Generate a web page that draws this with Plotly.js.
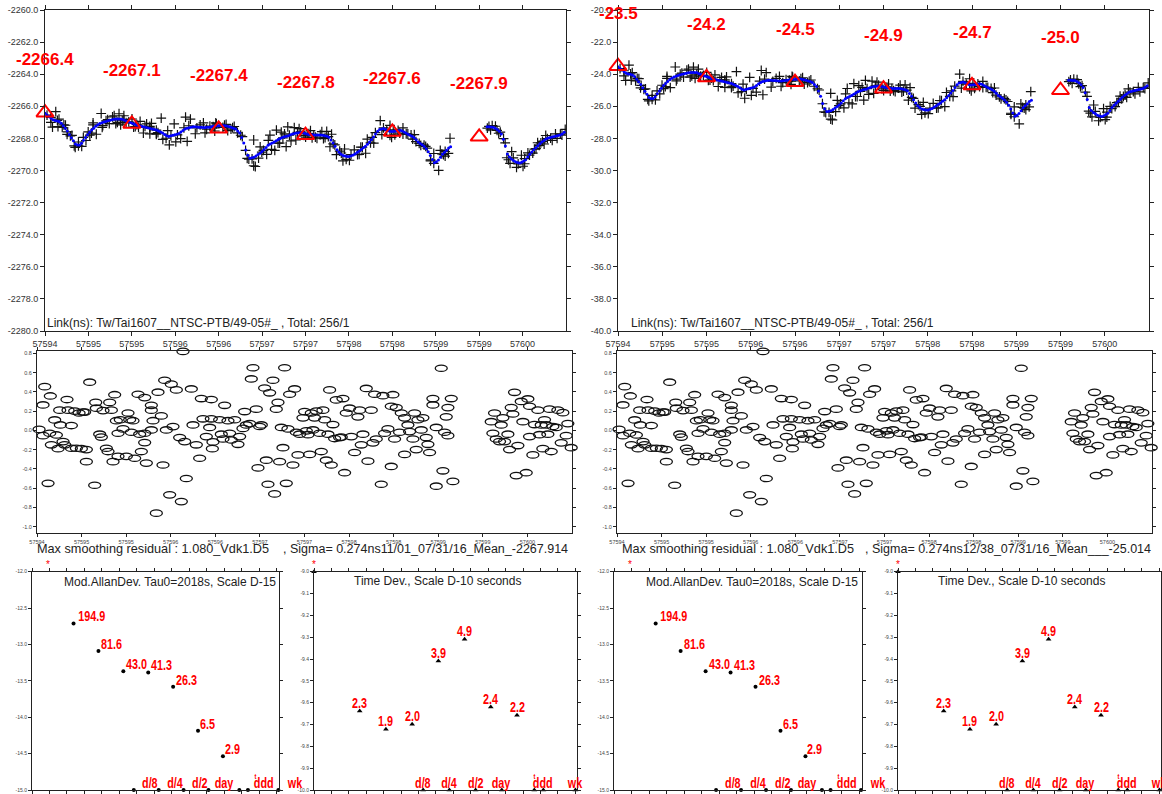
<!DOCTYPE html>
<html><head><meta charset="utf-8">
<script src="https://cdn.plot.ly/plotly-3.0.1.min.js"></script>
<style>html,body{margin:0;padding:0;background:#fff;}#chart{width:1162px;height:794px;}</style>
</head><body><div id="chart"></div>
<script>
// ---------------- DATA ----------------
const MJD0 = 57594;
const TAU0_S = 2018;
const DAY_S = 86400;

// smoothed link values (ns), samples 0..200
const smoothSeg1 = [-2266.44,-2266.54,-2266.64,-2266.74,-2266.84,-2266.88,-2266.91,-2266.95,-2267.05,-2267.21,
-2267.37,-2267.54,-2267.75,-2267.96,-2268.15,-2268.35,-2268.41,-2268.41,-2268.30,-2268.12,
-2267.95,-2267.78,-2267.61,-2267.48,-2267.36,-2267.24,-2267.15,-2267.07,-2267.02,-2266.98,
-2266.94,-2266.90,-2266.87,-2266.84,-2266.81,-2266.79,-2266.79,-2266.79,-2266.80,-2266.86,
-2266.91,-2266.96,-2267.01,-2267.06,-2267.11,-2267.16,-2267.20,-2267.23,-2267.26,-2267.29,
-2267.32,-2267.35,-2267.38,-2267.41,-2267.45,-2267.48,-2267.54,-2267.60,-2267.66,-2267.75,
-2267.84,-2267.88,-2267.84,-2267.80,-2267.77,-2267.74,-2267.70,-2267.60,-2267.50,-2267.41,
-2267.36,-2267.33,-2267.30,-2267.27,-2267.28,-2267.29,-2267.30,-2267.31,-2267.32,-2267.32,
-2267.31,-2267.30,-2267.27,-2267.24,-2267.22,-2267.21,-2267.21,-2267.20,-2267.20,-2267.21,
-2267.25,-2267.28,-2267.32,-2267.36,-2267.42,-2267.54,-2267.66,-2267.95,-2268.28,-2268.72,
-2269.05,-2269.23,-2269.21,-2269.17,-2269.10,-2269.01,-2268.92,-2268.82,-2268.69,-2268.56,
-2268.43,-2268.35,-2268.29,-2268.23,-2268.15,-2268.07,-2268.00,-2267.94,-2267.90,-2267.86,
-2267.83,-2267.78,-2267.73,-2267.69,-2267.67,-2267.65,-2267.63,-2267.64,-2267.68,-2267.72,
-2267.75,-2267.76,-2267.78,-2267.79,-2267.79,-2267.79,-2267.79,-2267.80,-2267.84,-2267.87,
-2267.93,-2268.10,-2268.28,-2268.49,-2268.70,-2268.87,-2268.98,-2269.07,-2269.10,-2269.13,
-2269.13,-2269.08,-2269.03,-2268.95,-2268.87,-2268.78,-2268.69,-2268.59,-2268.49,-2268.36,
-2268.23,-2268.07,-2267.92,-2267.73,-2267.55,-2267.45,-2267.41,-2267.38,-2267.44,-2267.50,
-2267.56,-2267.57,-2267.56,-2267.54,-2267.52,-2267.49,-2267.53,-2267.60,-2267.66,-2267.74,
-2267.80,-2267.87,-2267.96,-2268.09,-2268.22,-2268.31,-2268.40,-2268.50,-2268.64,-2268.83,
-2269.07,-2269.32,-2269.52,-2269.45,-2269.35,-2269.17,-2268.99,-2268.87,-2268.74,-2268.60,
-2268.52];
const SEG2_START = 218;
// smoothed link values (ns), samples 218..256
const smoothSeg2 = [-2267.27,-2267.28,-2267.29,-2267.30,-2267.36,-2267.44,-2267.55,-2267.73,-2268.06,-2268.48,
-2268.97,-2269.16,-2269.29,-2269.37,-2269.46,-2269.50,-2269.54,-2269.49,-2269.41,-2269.33,
-2269.16,-2268.98,-2268.84,-2268.71,-2268.58,-2268.46,-2268.33,-2268.22,-2268.13,-2268.04,
-2267.98,-2267.95,-2267.91,-2267.88,-2267.85,-2267.82,-2267.79,-2267.72,-2267.62];

// smoothing residuals (ns): sample position and value
const residSample = [1.0,2.9,3.7,2.9,6.4,5.3,6.1,6.9,8.5,9.3,10.1,10.9,11.2,12.5,13.3,14.4,14.9,16.5,16.5,18.1,18.9,20.2,21.3,22.1,22.9,23.7,23.7,25.3,27.7,28.2,28.5,30.1,30.9,31.7,33.3,34.1,34.9,35.7,36.5,37.3,38.1,38.9,38.9,40.0,41.3,42.9,43.7,44.5,45.3,46.1,46.9,48.5,49.3,50.1,51.7,51.7,51.7,52.5,54.9,54.9,55.7,54.9,57.3,58.1,59.7,60.5,61.3,62.1,63.7,64.5,65.3,66.9,68.5,69.3,70.1,70.9,71.7,74.1,74.9,76.5,78.1,78.9,79.7,81.3,82.9,83.7,83.7,84.2,84.5,
87.7,88.5,89.3,90.1,91.7,92.5,93.3,94.9,96.5,97.3,98.9,99.7,100.5,102.1,102.9,103.7,102.9,105.3,106.1,106.9,107.7,109.3,110.1,110.9,111.7,113.3,114.1,114.9,115.7,116.5,117.3,118.1,118.9,119.7,120.5,121.3,122.9,123.7,124.5,125.3,126.1,127.7,128.5,129.3,130.1,130.9,131.7,132.5,133.3,134.1,135.7,136.5,137.3,138.1,138.9,139.7,140.5,141.3,142.1,142.9,143.7,145.3,146.1,146.9,147.7,148.5,150.1,150.9,152.5,154.1,154.9,155.7,156.5,158.1,158.9,160.5,161.3,162.1,162.9,165.3,166.1,166.9,168.5,170.1,170.1,170.9,
172.5,171.7,174.9,176.5,174.1,176.5,178.1,178.9,180.5,181.3,182.1,182.9,184.5,185.3,186.9,187.7,188.5,190.1,190.1,191.7,191.7,194.1,194.9,195.7,196.5,197.3,197.3,198.9,199.7,
218.1,218.9,219.7,220.5,222.1,222.9,223.7,224.5,226.1,226.9,227.7,228.5,229.3,230.1,230.9,232.5,233.3,234.9,235.7,236.5,236.5,238.1,238.9,240.5,241.3,242.1,242.9,243.7,244.5,245.3,246.1,246.9,247.7,249.3,250.1,251.7,252.5,254.1,254.9,256.5];
const residValue = [0.01,-0.055,0.454,0.264,0.357,-0.55,-0.03,-0.15,0.108,-0.048,-0.19,0.21,0.056,-0.117,-0.15,0.32,0.21,0.05,-0.186,0.2,-0.186,0.18,-0.19,0.19,0.19,-0.2,-0.325,0.5,-0.57,0.29,0.23,-0.04,-0.07,0.205,-0.186,-0.22,0.29,0.21,-0.325,0.37,0.1,-0.03,-0.27,0.11,0.015,-0.27,0.18,0.11,-0.02,0.1,-0.29,0.375,-0.04,-0.22,-0.03,0.34,-0.127,-0.34,0.21,0.26,0.1,0.004,-0.86,0.396,0.15,-0.36,0.52,0.004,-0.67,0.48,0.039,0.42,-0.075,-0.74,0.82,-0.117,-0.5,0.43,0.056,-0.15,-0.29,0.33,0.12,-0.065,0.03,0.32,0.12,-0.19,-0.12,
0.11,-0.04,-0.09,0.26,0.1,-0.03,-0.1,0.11,-0.145,-0.065,0.02,0.195,0.056,0.07,0.534,0.65,-1.07,0.22,-0.39,0.04,0.056,0.44,-0.31,-0.56,0.39,0.52,-0.66,0.22,0.29,-0.325,0.03,-0.18,0.65,-0.55,0.015,0.375,-0.36,0.43,-0.02,-0.255,-0.04,0.13,0.195,-0.005,-0.045,-0.25,0.18,0.004,0.13,0.2,-0.03,-0.22,0.21,0.11,-0.31,-0.04,0.42,-0.36,0.06,-0.085,0.316,-0.075,-0.07,0.33,-0.44,0.18,0.23,-0.065,-0.23,0.14,0.21,-0.15,-0.04,0.435,-0.32,0.21,-0.13,0.375,-0.09,-0.56,0.36,-0.03,0.015,0.25,-0.375,0.37,
0.236,-0.09,0.18,0.13,-0.02,-0.25,0.056,-0.013,-0.09,0.18,-0.2,0.11,0.004,0.13,-0.075,-0.145,-0.23,0.33,0.264,0.03,-0.58,0.645,-0.42,-0.02,0.14,0.236,-0.055,0.33,-0.53,
0.09,-0.03,0.18,-0.09,-0.117,0.056,0.13,-0.117,-0.04,-0.2,0.236,0.17,0.395,-0.47,-0.158,0.3,0.09,-0.44,0.326,0.25,-0.065,-0.255,0.06,0.21,-0.045,0.056,-0.19,0.11,0.056,-0.04,0.22,-0.22,0.04,0.03,0.21,-0.13,0.184,-0.055,0.07,-0.18];

// daily values (triangles)
const dayMjd = [57594,57595,57596,57597,57598,57599];
const dayValLeft = [-2266.4,-2267.1,-2267.4,-2267.8,-2267.6,-2267.9];
const dayValRight = [-23.5,-24.2,-24.5,-24.9,-24.7,-25.0];
const RIGHT_OFFSET = 2242.9; // right chart = left chart shifted

// x tick labels (MJD)
const mjdTickVals = [57594,57594.5,57595,57595.5,57596,57596.5,57597,57597.5,57598,57598.5,57599,57599.5];
const mjdTickText = ['57594','57595','57595','57596','57596','57597','57597','57598','57598','57599','57599','57600'];

// stability
const adevTauS = [2018,4036,8072,16144,32288,64576,129152];
const adevVal = [194.9,81.6,43.0,41.3,26.3,6.5,2.9];     // x 1e-15
const tdevVal = [2.3,1.9,2.0,3.9,4.9,2.4,2.2];            // x 1e-10 s
const markTauS = [10800,21600,43200,86400,204000,259200,604800];
const markLabel = ['d/8','d/4','d/2','day','t','ddd','wk'];
const markSize = [15,15,15,15,8,15,15];

// texts
const linkText = 'Link(ns): Tw/Tai1607__NTSC-PTB/49-05#_ , Total: 256/1';
const maxText = 'Max smoothing residual : 1.080_Vdk1.D5';
const sigmaLeft = ', Sigma= 0.274ns11/01_07/31/16_Mean_-2267.914';
const sigmaRight = ', Sigma= 0.274ns12/38_07/31/16_Mean___-25.014';
const adevTitle = 'Mod.AllanDev. Tau0=2018s, Scale D-15';
const tdevTitle = 'Time Dev., Scale D-10 seconds';

// ---------------- LAYOUT HELPERS ----------------
const W = 1162, H = 794;
const px = x => x / W, py = y => 1 - y / H;
const FONT = 'Liberation Sans, Arial, sans-serif';
const NARROW = 'Liberation Sans, Arial Narrow';   // drawn horizontally condensed (see below)
const RED = '#ff0000';
const ADEV_XR = [2.8025, 5.7928], TDEV_XR = [2.78, 5.80];
const ADEV_YR = [-15, -12], TDEV_YR = [-10, -9];
const MID_YR = [-1.066, 0.824];

const mjdOf = s => MJD0 + s * TAU0_S / DAY_S;
function smoothAt(s) {
  const k = Math.round(s);
  if (k <= smoothSeg1.length - 1) return smoothSeg1[Math.max(0, k)];
  return smoothSeg2[Math.min(smoothSeg2.length - 1, Math.max(0, k - SEG2_START))];
}
function rangeTicks(a, b, step) { const v = []; for (let t = a; t <= b + 1e-9; t += step) v.push(+t.toFixed(6)); return v; }

const seg1Idx = smoothSeg1.map((_, i) => i);
const seg2Idx = smoothSeg2.map((_, i) => i + SEG2_START);
const smoothX = seg1Idx.concat(seg2Idx).map(mjdOf);
const smoothY = smoothSeg1.concat(smoothSeg2);
const rawX = residSample.map(mjdOf);
const rawY = residSample.map((s, i) => smoothAt(s) - residValue[i]);

const halves = [
  {off: 0, dayVals: dayValLeft, yr: [-2280, -2260], top: [45, 566], mid: [37, 572], adev: [32, 279.3], tdev: [314, 577],
   linkX: 45, maxX: 35, sigmaX: 281, sigma: sigmaLeft},
  {off: RIGHT_OFFSET, dayVals: dayValRight, yr: [-40, -20], top: [618, 1149], mid: [617, 1152], adev: [614, 862], tdev: [898, 1161],
   linkX: 629, maxX: 620, sigmaX: 863, sigma: sigmaRight}
];

const axisBase = {showline: true, linecolor: '#222', linewidth: 1, mirror: 'allticks', ticks: 'outside',
  ticklen: 4, tickcolor: '#222', tickwidth: 1, showgrid: false, zeroline: false, fixedrange: true};

const data = [];
const layout = {width: W, height: H, margin: {l: 0, r: 0, t: 0, b: 0}, showlegend: false,
  paper_bgcolor: '#fff', plot_bgcolor: '#fff', font: {family: FONT, color: '#222'}, annotations: []};
const ann = layout.annotations;
const nm = n => (n === 1 ? '' : String(n));

halves.forEach((h, hi) => {
  const nTop = 1 + 4 * hi, nMid = 2 + 4 * hi, nAd = 3 + 4 * hi, nTd = 4 + 4 * hi;
  const xa = n => 'x' + nm(n), ya = n => 'y' + nm(n);

  // ---- top panel
  layout['xaxis' + nm(nTop)] = Object.assign({}, axisBase, {domain: [px(h.top[0]), px(h.top[1])], anchor: ya(nTop),
    range: [MJD0, MJD0 + 6], tickmode: 'array', tickvals: mjdTickVals, ticktext: mjdTickText,
    tickfont: {size: 9, color: '#333'}});
  const yTop = rangeTicks(h.yr[0], h.yr[1], 2);
  layout['yaxis' + nm(nTop)] = Object.assign({}, axisBase, {domain: [py(331), py(10)], anchor: xa(nTop),
    range: h.yr, tickmode: 'array', tickvals: yTop, ticktext: yTop.map(v => v.toFixed(1)),
    tickfont: {size: 9, color: '#333'}});
  data.push({type: 'scatter', mode: 'markers', xaxis: xa(nTop), yaxis: ya(nTop), x: rawX, y: rawY.map(v => v + h.off),
    marker: {symbol: 'cross-thin', size: 7, line: {color: '#111', width: 1.2}}, hoverinfo: 'skip'});
  data.push({type: 'scatter', mode: 'markers', xaxis: xa(nTop), yaxis: ya(nTop), x: smoothX, y: smoothY.map(v => v + h.off),
    marker: {symbol: 'circle', size: 3, color: '#0000ff'}, hoverinfo: 'skip'});
  data.push({type: 'scatter', mode: 'markers', xaxis: xa(nTop), yaxis: ya(nTop), x: dayMjd, y: h.dayVals,
    marker: {symbol: 'triangle-up-open', size: 15, color: RED, line: {color: RED, width: 2}}, cliponaxis: false, hoverinfo: 'skip'});
  dayMjd.forEach((d, i) => ann.push({xref: xa(nTop), yref: ya(nTop), x: d, y: h.dayVals[i], text: '<b>' + h.dayVals[i].toFixed(1) + '</b>',
    showarrow: false, yshift: 53, xanchor: 'center', yanchor: 'middle', font: {family: FONT, size: 17, color: RED}}));
  ann.push({xref: 'paper', yref: 'paper', x: px(h.linkX), y: py(323), xanchor: 'left', yanchor: 'middle', showarrow: false,
    text: linkText, font: {family: FONT, size: 12, color: '#222'}});

  // ---- residual panel
  layout['xaxis' + nm(nMid)] = Object.assign({}, axisBase, {domain: [px(h.mid[0]), px(h.mid[1])], anchor: ya(nMid),
    range: [MJD0, MJD0 + 6], tickmode: 'array', tickvals: mjdTickVals, ticktext: mjdTickText,
    tickfont: {size: 5.5, color: '#444'}, ticklen: 3});
  const yMid = rangeTicks(-1.0, 0.8, 0.2);
  layout['yaxis' + nm(nMid)] = Object.assign({}, axisBase, {domain: [py(533), py(351)], anchor: xa(nMid),
    range: MID_YR, tickmode: 'array', tickvals: yMid, ticktext: yMid.map(v => v.toFixed(1)),
    tickfont: {size: 5.5, color: '#444'}, ticklen: 3});
  data.push({type: 'scatter', mode: 'markers', xaxis: xa(nMid), yaxis: ya(nMid), x: rawX, y: residValue,
    marker: {symbol: 'circle-open', size: 10, color: '#111', line: {color: '#111', width: 1.3}}, cliponaxis: false, hoverinfo: 'skip'});
  ann.push({xref: 'paper', yref: 'paper', x: px(h.maxX), y: py(549), xanchor: 'left', yanchor: 'middle', showarrow: false,
    text: maxText, font: {family: FONT, size: 12.7, color: '#222'}});
  ann.push({xref: 'paper', yref: 'paper', x: px(h.sigmaX), y: py(549), xanchor: 'left', yanchor: 'middle', showarrow: false,
    text: h.sigma, font: {family: FONT, size: 12.5, color: '#222'}});

  // ---- ADEV panel
  const yAd = rangeTicks(-15, -12, 0.5);
  layout['xaxis' + nm(nAd)] = Object.assign({}, axisBase, {domain: [px(h.adev[0]), px(h.adev[1])], anchor: ya(nAd),
    range: ADEV_XR, tickmode: 'linear', tick0: ADEV_XR[0], dtick: 0.2113, showticklabels: false, ticklen: 3});
  layout['yaxis' + nm(nAd)] = Object.assign({}, axisBase, {domain: [py(790), py(571.7)], anchor: xa(nAd),
    range: ADEV_YR, tickmode: 'array', tickvals: yAd, ticktext: yAd.map(v => v.toFixed(1)),
    tickfont: {size: 5, color: '#444'}, ticklen: 3});
  const adX = adevTauS.map(t => Math.log10(t)), adY = adevVal.map(v => Math.log10(v * 1e-15));
  data.push({type: 'scatter', mode: 'markers', xaxis: xa(nAd), yaxis: ya(nAd), x: adX, y: adY,
    marker: {symbol: 'circle', size: 4, color: '#000'}, hoverinfo: 'skip'});
  const mkX = markTauS.map(t => Math.log10(t));
  data.push({type: 'scatter', mode: 'markers', xaxis: xa(nAd), yaxis: ya(nAd), x: mkX, y: mkX.map(() => ADEV_YR[0]),
    marker: {symbol: 'circle', size: 4, color: '#000'}, cliponaxis: false, hoverinfo: 'skip'});
  adX.forEach((x, i) => ann.push({xref: xa(nAd), yref: ya(nAd), x: x, y: adY[i], text: '<b>' + adevVal[i].toFixed(1) + '</b>',
    showarrow: false, xanchor: 'left', yanchor: 'bottom', xshift: -3, yshift: -3, font: {family: NARROW, size: 15, color: RED}}));
  mkX.forEach((x, i) => ann.push({xref: xa(nAd), yref: ya(nAd), x: x, y: ADEV_YR[0], text: '<b>' + markLabel[i] + '</b>',
    showarrow: false, xanchor: 'center', yanchor: 'bottom', xshift: 16.5, yshift: markSize[i] < 10 ? 7 : -3,
    font: {family: NARROW, size: markSize[i], color: RED}}));
  ann.push({xref: xa(nAd), yref: ya(nAd), x: 3, y: ADEV_YR[1], text: '*', showarrow: false, yanchor: 'bottom', yshift: 0,
    font: {family: FONT, size: 10, color: RED}});
  ann.push({xref: 'paper', yref: 'paper', x: px(h.adev[0] + 30), y: py(582), xanchor: 'left', yanchor: 'middle', showarrow: false,
    text: adevTitle, font: {family: FONT, size: 12, color: '#222'}});

  // ---- TDEV panel
  const yTd = rangeTicks(-10, -9, 0.1);
  layout['xaxis' + nm(nTd)] = Object.assign({}, axisBase, {domain: [px(h.tdev[0]), px(h.tdev[1])], anchor: ya(nTd),
    range: TDEV_XR, tickmode: 'linear', tick0: TDEV_XR[0], dtick: 0.2, showticklabels: false, ticklen: 3});
  layout['yaxis' + nm(nTd)] = Object.assign({}, axisBase, {domain: [py(790), py(571.7)], anchor: xa(nTd),
    range: TDEV_YR, tickmode: 'array', tickvals: yTd, ticktext: yTd.map(v => v.toFixed(1)),
    tickfont: {size: 5, color: '#444'}, ticklen: 3});
  const tdY = tdevVal.map(v => Math.log10(v * 1e-10));
  data.push({type: 'scatter', mode: 'markers', xaxis: xa(nTd), yaxis: ya(nTd), x: adX, y: tdY,
    marker: {symbol: 'triangle-up', size: 5, color: '#000'}, hoverinfo: 'skip'});
  data.push({type: 'scatter', mode: 'markers', xaxis: xa(nTd), yaxis: ya(nTd), x: mkX.concat([TDEV_XR[0]]), y: mkX.map(() => TDEV_YR[0]).concat([TDEV_YR[1]]),
    marker: {symbol: 'triangle-up', size: 5, color: '#000'}, cliponaxis: false, hoverinfo: 'skip'});
  adX.forEach((x, i) => ann.push({xref: xa(nTd), yref: ya(nTd), x: x, y: tdY[i], text: '<b>' + tdevVal[i].toFixed(1) + '</b>',
    showarrow: false, xanchor: 'center', yanchor: 'bottom', yshift: -2, font: {family: NARROW, size: 15, color: RED}}));
  mkX.forEach((x, i) => ann.push({xref: xa(nTd), yref: ya(nTd), x: x, y: TDEV_YR[0], text: '<b>' + markLabel[i] + '</b>',
    showarrow: false, xanchor: 'center', yanchor: 'bottom', xshift: 0, yshift: markSize[i] < 10 ? 7 : -3,
    font: {family: NARROW, size: markSize[i], color: RED}}));
  ann.push({xref: xa(nTd), yref: ya(nTd), x: TDEV_XR[0], y: TDEV_YR[1], text: '*', showarrow: false, yanchor: 'bottom', yshift: 0,
    font: {family: FONT, size: 10, color: RED}});
  ann.push({xref: 'paper', yref: 'paper', x: px(h.tdev[0] + 38), y: py(581), xanchor: 'left', yanchor: 'middle', showarrow: false,
    text: tdevTitle, font: {family: FONT, size: 12, color: '#222'}});
});

Plotly.newPlot('chart', data, layout, {staticPlot: true, displayModeBar: false}).then(gd => {
  // residual markers are drawn as flat ellipses, as in the original plot
  gd.querySelectorAll('.subplot.x2y2 .point, .subplot.x6y6 .point').forEach(p =>
    p.setAttribute('d', 'M6,0A6,3.2 0 1,1 -6,0A6,3.2 0 1,1 6,0Z'));
  // the stability labels use a condensed bold face
  gd.querySelectorAll('text.annotation-text').forEach(t => {
    if ((t.getAttribute('style') || '').indexOf('Narrow') >= 0) {
      t.style.transformBox = 'fill-box';
      t.style.transformOrigin = 'center';
      t.style.transform = 'scaleX(0.72)';
    }
  });
});
</script></body></html>
